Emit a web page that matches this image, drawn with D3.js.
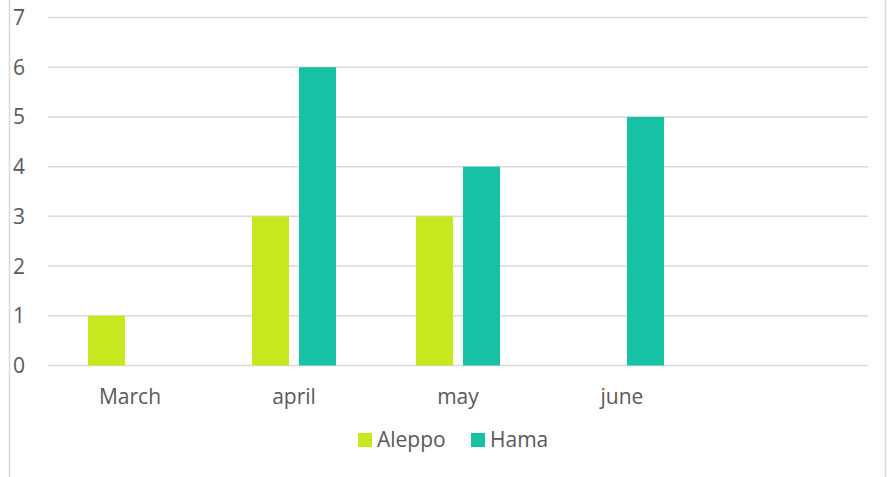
<!DOCTYPE html>
<html><head><meta charset="utf-8">
<script src="https://cdn.jsdelivr.net/npm/d3@7"></script>
<style>body{margin:0;background:#fff;} svg{display:block;font-family:"Open Sans",sans-serif;}</style>
</head><body>
<svg id="c" width="887" height="477"></svg>
<script>
const categories = ["March","april","may","june",""];
const seriesNames = ["Aleppo","Hama"];
const aleppo = [1,3,3,0,null];
const hama = [0,6,4,5,null];
const yTicks = [0,1,2,3,4,5,6,7];
const colors = ["#C5E81E","#17C1A3"];

const svg = d3.select("#c");
const x0 = 48, x1 = 868, yTop = 17.5, yBot = 365.5;
const x = d3.scaleBand().domain(categories).range([x0,x1]).paddingInner(0).paddingOuter(0);
const y = d3.scaleLinear().domain([0,7]).range([yBot,yTop]);
const xs = d3.scaleBand().domain(seriesNames).range([0,84]).paddingInner(10/47);

// chart border
svg.append("line").attr("x1",9.5).attr("x2",9.5).attr("y1",0).attr("y2",477).attr("stroke","#d9d9d9").attr("stroke-width",1.5);
svg.append("line").attr("x1",885.5).attr("x2",885.5).attr("y1",0).attr("y2",477).attr("stroke","#d9d9d9").attr("stroke-width",1.5);

// gridlines
svg.append("g").selectAll("line").data(yTicks).join("line")
  .attr("x1",x0).attr("x2",x1).attr("y1",d=>y(d)).attr("y2",d=>y(d))
  .attr("stroke","#d9d9d9").attr("stroke-width",1.5);

// y labels
svg.append("g").selectAll("text").data(yTicks).join("text")
  .attr("x",19).attr("y",d=>y(d)).attr("dy","0.36em").attr("text-anchor","middle")
  .attr("font-size",21).attr("fill","#595959").text(d=>d);

// bars
const data = [aleppo,hama];
data.forEach((vals,si)=>{
  svg.append("g").selectAll("rect").data(categories.map((c,i)=>({c,v:vals[i]})).filter(d=>d.v))
    .join("rect")
    .attr("x",d=>x(d.c)+x.bandwidth()/2-42+xs(seriesNames[si]))
    .attr("width",xs.bandwidth())
    .attr("y",d=>y(d.v)).attr("height",d=>y(0)-y(d.v))
    .attr("fill",colors[si]);
});

// x labels
svg.append("g").selectAll("text").data(categories).join("text")
  .attr("x",d=>x(d)+x.bandwidth()/2).attr("y",404).attr("text-anchor","middle")
  .attr("font-size",21).attr("fill","#595959").text(d=>d);

// legend
const leg = [{n:"Aleppo",x:358},{n:"Hama",x:471}];
leg.forEach((l,i)=>{
  svg.append("rect").attr("x",l.x).attr("y",433).attr("width",14).attr("height",14).attr("fill",colors[i]);
  svg.append("text").attr("x",l.x+19).attr("y",447).attr("font-size",21).attr("fill","#595959").text(seriesNames[i]);
});
</script>
</body></html>
